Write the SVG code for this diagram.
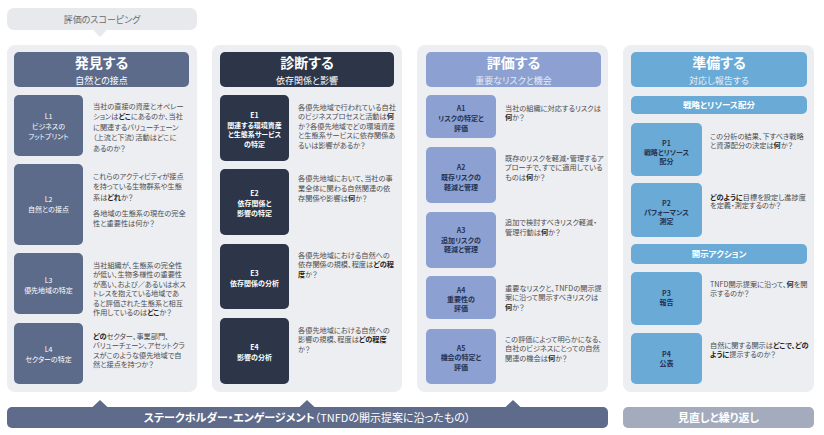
<svg xmlns="http://www.w3.org/2000/svg" width="824" height="435" viewBox="0 0 824 435">
<style>
text{font-family:"Noto Sans CJK JP","Noto Sans",sans-serif;font-feature-settings:"palt"}
.panel{fill:#eceef2}
.c1{fill:#5d6b8b}.c2{fill:#2c3648}.c3{fill:#8ca1d2}.c4{fill:#6aaad6}
.ht{font-size:14px;font-weight:bold;fill:#fff;text-anchor:middle}
.hs{font-size:9px;fill:#fff;text-anchor:middle}
.hs3{fill:#e6ebf7}.hs4{fill:#e6f1fa}
.lb{font-size:7px;text-anchor:middle;fill:#fff}
.lbb{font-size:7px;text-anchor:middle;fill:#fff;font-weight:bold}
.lbd{font-size:7px;text-anchor:middle;fill:#26324f;font-weight:bold}
.d{font-size:7.2px;fill:#4d4d4d}
.b{font-weight:bold;fill:#1f1f1f}
.bar{font-size:8.5px;font-weight:bold;fill:#fff;text-anchor:middle}
.foot{font-size:11px;fill:#fff;text-anchor:middle}
</style>

<g id="scoping">
<rect x="7" y="8" width="190" height="22" rx="7" fill="#e8e9ed"/>
<polygon points="93,30 107,30 100,37" fill="#e8e9ed"/>
<text x="102" y="22.5" font-size="9" fill="#6b6b6b" text-anchor="middle">評価のスコーピング</text>
</g>

<g id="col1">
<rect class="panel" x="7" y="45" width="190" height="347" rx="8"/>
<rect class="c1" x="14" y="52" width="175" height="35" rx="5"/>
<text class="ht" x="101.5" y="68">発見する</text>
<text class="hs" x="101.5" y="83.5">自然との接点</text>
</g>
<g id="L1">
<rect class="c1" x="14" y="95" width="69" height="61" rx="5"/>
<text class="lb" x="48.5" y="118.5">L1</text>
<text class="lb" x="48.5" y="129">ビジネスの</text>
<text class="lb" x="48.5" y="139">フットプリント</text>
<text class="d"><tspan x="93" y="108.5">当社の直接の資産とオペレー</tspan><tspan x="93" y="119">ションは<tspan class="b">どこ</tspan>にあるのか、当社</tspan><tspan x="93" y="129.5">に関連するバリューチェーン</tspan><tspan x="93" y="140">（上流と下流）活動はどこに</tspan><tspan x="93" y="150.5">あるのか？</tspan></text>
</g>
<g id="L2">
<rect class="c1" x="14" y="164" width="69" height="81" rx="5"/>
<text class="lb" x="48.5" y="201.5">L2</text>
<text class="lb" x="48.5" y="211.5">自然との接点</text>
<text class="d"><tspan x="93" y="178.5">これらのアクティビティが接点</tspan><tspan x="93" y="189">を持っている生物群系や生態</tspan><tspan x="93" y="199.5">系は<tspan class="b">どれ</tspan>か？</tspan><tspan x="93" y="215.5">各地域の生態系の現在の完全</tspan><tspan x="93" y="226">性と重要性は何か？</tspan></text>
</g>
<g id="L3">
<rect class="c1" x="14" y="253" width="69" height="61" rx="5"/>
<text class="lb" x="48.5" y="282.5">L3</text>
<text class="lb" x="48.5" y="293">優先地域の特定</text>
<text class="d"><tspan x="93" y="267.5">当社組織が、生態系の完全性</tspan><tspan x="93" y="277">が低い、生物多様性の重要性</tspan><tspan x="93" y="286.5">が高い、および／あるいは水ス</tspan><tspan x="93" y="296">トレスを抱えている地域であ</tspan><tspan x="93" y="305.5">ると評価された生態系と相互</tspan><tspan x="93" y="315">作用しているのは<tspan class="b">どこ</tspan>か？</tspan></text>
</g>
<g id="L4">
<rect class="c1" x="14" y="323" width="69" height="61" rx="5"/>
<text class="lb" x="48.5" y="351.5">L4</text>
<text class="lb" x="48.5" y="361.5">セクターの特定</text>
<text class="d"><tspan x="93" y="338.5"><tspan class="b">どの</tspan>セクター、事業部門、</tspan><tspan x="93" y="348">バリューチェーン、アセットクラ</tspan><tspan x="93" y="357.5">スがこのような優先地域で自</tspan><tspan x="93" y="367">然と接点を持つか？</tspan></text>
</g>

<g id="col2">
<rect class="panel" x="212" y="45" width="190" height="347" rx="8"/>
<rect class="c2" x="220" y="52" width="174" height="35" rx="5"/>
<text class="ht" x="307" y="68">診断する</text>
<text class="hs" x="307" y="83.5">依存関係と影響</text>
</g>
<g id="E1">
<rect class="c2" x="220" y="95" width="69" height="66" rx="5"/>
<text class="lbb" x="254.5" y="118">E1</text>
<text class="lbb" x="254.5" y="127.5">関連する環境資産</text>
<text class="lbb" x="254.5" y="137">と生態系サービス</text>
<text class="lbb" x="254.5" y="146.5">の特定</text>
<text class="d"><tspan x="298" y="109.5">各優先地域で行われている自社</tspan><tspan x="298" y="119">のビジネスプロセスと活動は<tspan class="b">何</tspan></tspan><tspan x="298" y="128.5">か？各優先地域でどの環境資産</tspan><tspan x="298" y="138">と生態系サービスに依存関係あ</tspan><tspan x="298" y="147.5">るいは影響があるか？</tspan></text>
</g>
<g id="E2">
<rect class="c2" x="220" y="169" width="69" height="66" rx="5"/>
<text class="lbb" x="254.5" y="195.5">E2</text>
<text class="lbb" x="254.5" y="205.5">依存関係と</text>
<text class="lbb" x="254.5" y="215.5">影響の特定</text>
<text class="d"><tspan x="298" y="180.5">各優先地域において、当社の事</tspan><tspan x="298" y="190.5">業全体に関わる自然関連の依</tspan><tspan x="298" y="200.5">存関係や影響は<tspan class="b">何</tspan>か？</tspan></text>
</g>
<g id="E3">
<rect class="c2" x="220" y="244" width="69" height="65" rx="5"/>
<text class="lbb" x="254.5" y="275.5">E3</text>
<text class="lbb" x="254.5" y="285.5">依存関係の分析</text>
<text class="d"><tspan x="298" y="257.5">各優先地域における自然への</tspan><tspan x="298" y="267">依存関係の規模、程度は<tspan class="b">どの程</tspan></tspan><tspan x="298" y="276.5"><tspan class="b">度</tspan>か？</tspan></text>
</g>
<g id="E4">
<rect class="c2" x="220" y="318" width="69" height="66" rx="5"/>
<text class="lbb" x="254.5" y="349.5">E4</text>
<text class="lbb" x="254.5" y="359.5">影響の分析</text>
<text class="d"><tspan x="298" y="332.5">各優先地域における自然への</tspan><tspan x="298" y="342">影響の規模、程度は<tspan class="b">どの程度</tspan></tspan><tspan x="298" y="351.5">か？</tspan></text>
</g>

<g id="col3">
<rect class="panel" x="417" y="45" width="191" height="347" rx="8"/>
<rect class="c3" x="426" y="52" width="175" height="35" rx="5"/>
<text class="ht" x="513.5" y="68">評価する</text>
<text class="hs hs3" x="513.5" y="83.5">重要なリスクと機会</text>
</g>
<g id="A1">
<rect class="c3" x="426" y="95" width="70" height="43" rx="5"/>
<text class="lbd" x="461" y="110.5">A1</text>
<text class="lbd" x="461" y="120.5">リスクの特定と</text>
<text class="lbd" x="461" y="130.5">評価</text>
<text class="d"><tspan x="505" y="110.5">当社の組織に対応するリスクは</tspan><tspan x="505" y="120"><tspan class="b">何</tspan>か？</tspan></text>
</g>
<g id="A2">
<rect class="c3" x="426" y="147" width="70" height="56" rx="5"/>
<text class="lbd" x="461" y="169.5">A2</text>
<text class="lbd" x="461" y="179.5">既存リスクの</text>
<text class="lbd" x="461" y="189.5">軽減と管理</text>
<text class="d"><tspan x="505" y="160.5">既存のリスクを軽減・管理するア</tspan><tspan x="505" y="170">プローチで、すでに適用している</tspan><tspan x="505" y="179.5">ものは<tspan class="b">何</tspan>か？</tspan></text>
</g>
<g id="A3">
<rect class="c3" x="426" y="212" width="70" height="56" rx="5"/>
<text class="lbd" x="461" y="232.5">A3</text>
<text class="lbd" x="461" y="242.5">追加リスクの</text>
<text class="lbd" x="461" y="252">軽減と管理</text>
<text class="d"><tspan x="505" y="224.5">追加で検討すべきリスク軽減・</tspan><tspan x="505" y="234.5">管理行動は<tspan class="b">何</tspan>か？</tspan></text>
</g>
<g id="A4">
<rect class="c3" x="426" y="276" width="70" height="43" rx="5"/>
<text class="lbd" x="461" y="292.5">A4</text>
<text class="lbd" x="461" y="301.5">重要性の</text>
<text class="lbd" x="461" y="310.5">評価</text>
<text class="d"><tspan x="505" y="290.5">重要なリスクと、TNFDの開示提</tspan><tspan x="505" y="300">案に沿って開示すべきリスクは</tspan><tspan x="505" y="309.5"><tspan class="b">何</tspan>か？</tspan></text>
</g>
<g id="A5">
<rect class="c3" x="426" y="329" width="70" height="55" rx="5"/>
<text class="lbd" x="461" y="350.5">A5</text>
<text class="lbd" x="461" y="360">機会の特定と</text>
<text class="lbd" x="461" y="369.5">評価</text>
<text class="d"><tspan x="505" y="341.5">この評価によって明らかになる、</tspan><tspan x="505" y="351">自社のビジネスにとっての自然</tspan><tspan x="505" y="360.5">関連の機会は<tspan class="b">何</tspan>か？</tspan></text>
</g>

<g id="col4">
<rect class="panel" x="623" y="45" width="191" height="347" rx="8"/>
<rect class="c4" x="631" y="52" width="176" height="35" rx="5"/>
<text class="ht" x="719" y="68">準備する</text>
<text class="hs hs4" x="719" y="83.5">対応し報告する</text>
</g>
<g id="bar-strategy">
<rect class="c4" x="631" y="96" width="176" height="18" rx="5"/>
<text class="bar" x="719" y="108">戦略とリソース配分</text>
</g>
<g id="P1">
<rect class="c4" x="631" y="123" width="71" height="53" rx="5"/>
<text class="lbd" x="666.5" y="145.5">P1</text>
<text class="lbd" x="666.5" y="154.5">戦略とリソース</text>
<text class="lbd" x="666.5" y="163.5">配分</text>
<text class="d"><tspan x="710" y="138.5">この分析の結果、下すべき戦略</tspan><tspan x="710" y="147.5">と資源配分の決定は<tspan class="b">何</tspan>か？</tspan></text>
</g>
<g id="P2">
<rect class="c4" x="631" y="183" width="71" height="54" rx="5"/>
<text class="lbd" x="666.5" y="205.5">P2</text>
<text class="lbd" x="666.5" y="214.5">パフォーマンス</text>
<text class="lbd" x="666.5" y="223.5">測定</text>
<text class="d"><tspan x="710" y="199.5"><tspan class="b">どのように</tspan>目標を設定し進捗度</tspan><tspan x="710" y="208">を定義・測定するのか？</tspan></text>
</g>
<g id="bar-disclosure">
<rect class="c4" x="631" y="244" width="176" height="20" rx="5"/>
<text class="bar" x="719" y="257">開示アクション</text>
</g>
<g id="P3">
<rect class="c4" x="631" y="272" width="71" height="53" rx="5"/>
<text class="lbd" x="666.5" y="295.5">P3</text>
<text class="lbd" x="666.5" y="304.5">報告</text>
<text class="d"><tspan x="710" y="286.5">TNFD開示提案に沿って、<tspan class="b">何</tspan>を開</tspan><tspan x="710" y="295.5">示するのか？</tspan></text>
</g>
<g id="P4">
<rect class="c4" x="631" y="333" width="71" height="51" rx="5"/>
<text class="lbd" x="666.5" y="356.5">P4</text>
<text class="lbd" x="666.5" y="365.5">公表</text>
<text class="d"><tspan x="710" y="347.5">自然に関する開示は<tspan class="b">どこで、どの</tspan></tspan><tspan x="710" y="356.5"><tspan class="b">ように</tspan>提示するのか？</tspan></text>
</g>

<g id="stakeholder">
<rect x="7" y="407" width="601" height="21" rx="5" fill="#5e6b8a"/>
<polygon points="92,407.5 100,400 108,407.5" fill="#5e6b8a"/>
<polygon points="299,407.5 307,400 315,407.5" fill="#5e6b8a"/>
<polygon points="505,407.5 513,400 521,407.5" fill="#5e6b8a"/>
<text class="foot" x="307" y="421.5"><tspan font-weight="bold">ステークホルダー・エンゲージメント</tspan>（TNFDの開示提案に沿ったもの）</text>
</g>
<g id="review">
<rect x="623" y="407" width="191" height="21" rx="5" fill="#a4abbc"/>
<text class="foot" x="718.5" y="421.5" font-weight="bold">見直しと繰り返し</text>
</g>
<g id="connectors"></g>
</svg>
